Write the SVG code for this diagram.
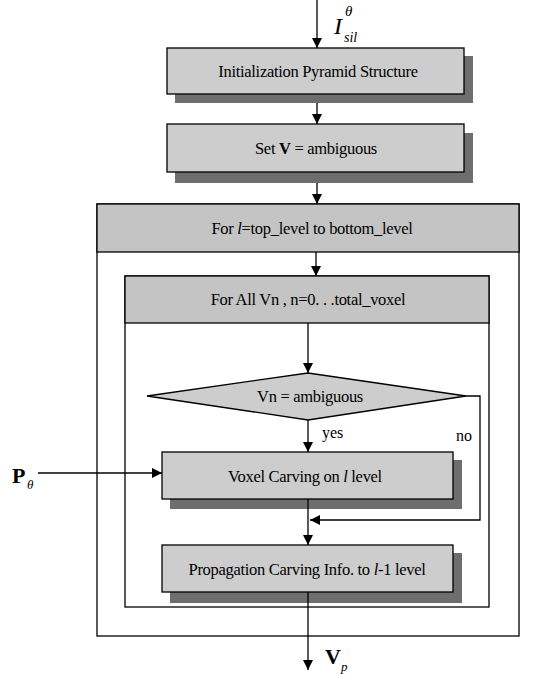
<svg xmlns="http://www.w3.org/2000/svg" width="536" height="674" viewBox="0 0 536 674">
<style>
.box{fill:#cdcdcd;stroke:#000;stroke-width:1.3}
.hdr{fill:#c4c4c4;stroke:#000;stroke-width:1.3}
.frame{fill:#fff;stroke:#000;stroke-width:1.3}
.shadow{fill:#6e6e6e}
.t{font-size:16.5px;fill:#000;text-anchor:middle;letter-spacing:-0.3px}
.ln{stroke:#000;stroke-width:1.3;fill:none}
</style>
<defs>
<marker id="ah" markerWidth="10" markerHeight="10" refX="10" refY="5" orient="auto" markerUnits="userSpaceOnUse">
<path d="M0,0 L10,5 L0,10 Z" fill="#000"/>
</marker>
</defs>

<g id="outer-loop">
<rect class="frame" x="97" y="204" width="422" height="432"/>
<rect class="hdr" x="97" y="204" width="422" height="48"/>
<text class="t" font-family="'Liberation Serif','Times New Roman',serif" x="312" y="234">For <tspan font-style="italic">l</tspan>=top_level to bottom_level</text>
</g>

<g id="inner-loop">
<rect class="frame" x="125" y="276" width="364" height="331"/>
<rect class="hdr" x="125" y="276" width="364" height="47"/>
<text class="t" font-family="'Liberation Serif','Times New Roman',serif" x="308" y="305">For All Vn , n=0. . .total_voxel</text>
</g>

<g id="init">
<rect class="shadow" x="175" y="56" width="298" height="47"/>
<rect class="box" x="167" y="48" width="297" height="46"/>
<text class="t" font-family="'Liberation Serif','Times New Roman',serif" x="318" y="77">Initialization Pyramid Structure</text>
</g>

<g id="setv">
<rect class="shadow" x="175" y="133" width="298" height="50"/>
<rect class="box" x="167" y="124" width="297" height="48"/>
<text class="t" font-family="'Liberation Serif','Times New Roman',serif" x="316" y="154">Set <tspan font-weight="bold">V</tspan> = ambiguous</text>
</g>

<g id="decision">
<polygon class="box" points="147,396 308,373 466,396 308,420"/>
<text class="t" font-family="'Liberation Serif','Times New Roman',serif" x="310" y="402">Vn = ambiguous</text>
</g>

<g id="carve">
<rect class="shadow" x="170" y="460" width="292" height="49"/>
<rect class="box" x="162" y="452" width="291" height="47"/>
<text class="t" font-family="'Liberation Serif','Times New Roman',serif" x="305" y="482">Voxel Carving on <tspan font-style="italic">l</tspan> level</text>
</g>

<g id="propagate">
<rect class="shadow" x="170" y="553" width="292" height="50"/>
<rect class="box" x="162" y="545" width="291" height="47"/>
<text class="t" font-family="'Liberation Serif','Times New Roman',serif" x="307" y="575">Propagation Carving Info. to <tspan font-style="italic">l</tspan>-1 level</text>
</g>

<g id="connectors">
<line class="ln" x1="317" y1="0" x2="317" y2="48" marker-end="url(#ah)"/>
<line class="ln" x1="317" y1="103" x2="317" y2="124" marker-end="url(#ah)"/>
<line class="ln" x1="317" y1="183" x2="317" y2="204" marker-end="url(#ah)"/>
<line class="ln" x1="316" y1="252" x2="316" y2="276" marker-end="url(#ah)"/>
<line class="ln" x1="308" y1="323" x2="308" y2="373" marker-end="url(#ah)"/>
<line class="ln" x1="308" y1="420" x2="308" y2="452" marker-end="url(#ah)"/>
<line class="ln" x1="308" y1="499" x2="308" y2="545" marker-end="url(#ah)"/>
<polyline class="ln" points="466,396 480,396 480,520 310,520" marker-end="url(#ah)"/>
<line class="ln" x1="38" y1="473" x2="162" y2="473" marker-end="url(#ah)"/>
<line class="ln" x1="308" y1="592" x2="308" y2="670" marker-end="url(#ah)"/>
</g>

<g id="labels" font-family="'Liberation Serif','Times New Roman',serif" fill="#000">
<text x="334" y="34" font-size="24" font-style="italic">I</text>
<text x="345" y="16" font-size="15" font-style="italic">θ</text>
<text x="344" y="42" font-size="14" font-style="italic">sil</text>
<text x="12" y="483" font-size="22" font-weight="bold">P</text>
<text x="27" y="489" font-size="13" font-style="italic">θ</text>
<text x="322" y="438" font-size="16">yes</text>
<text x="456" y="441" font-size="16">no</text>
<text x="325" y="664" font-size="22" font-weight="bold">V</text>
<text x="341" y="671" font-size="13" font-style="italic">p</text>
</g>
</svg>
